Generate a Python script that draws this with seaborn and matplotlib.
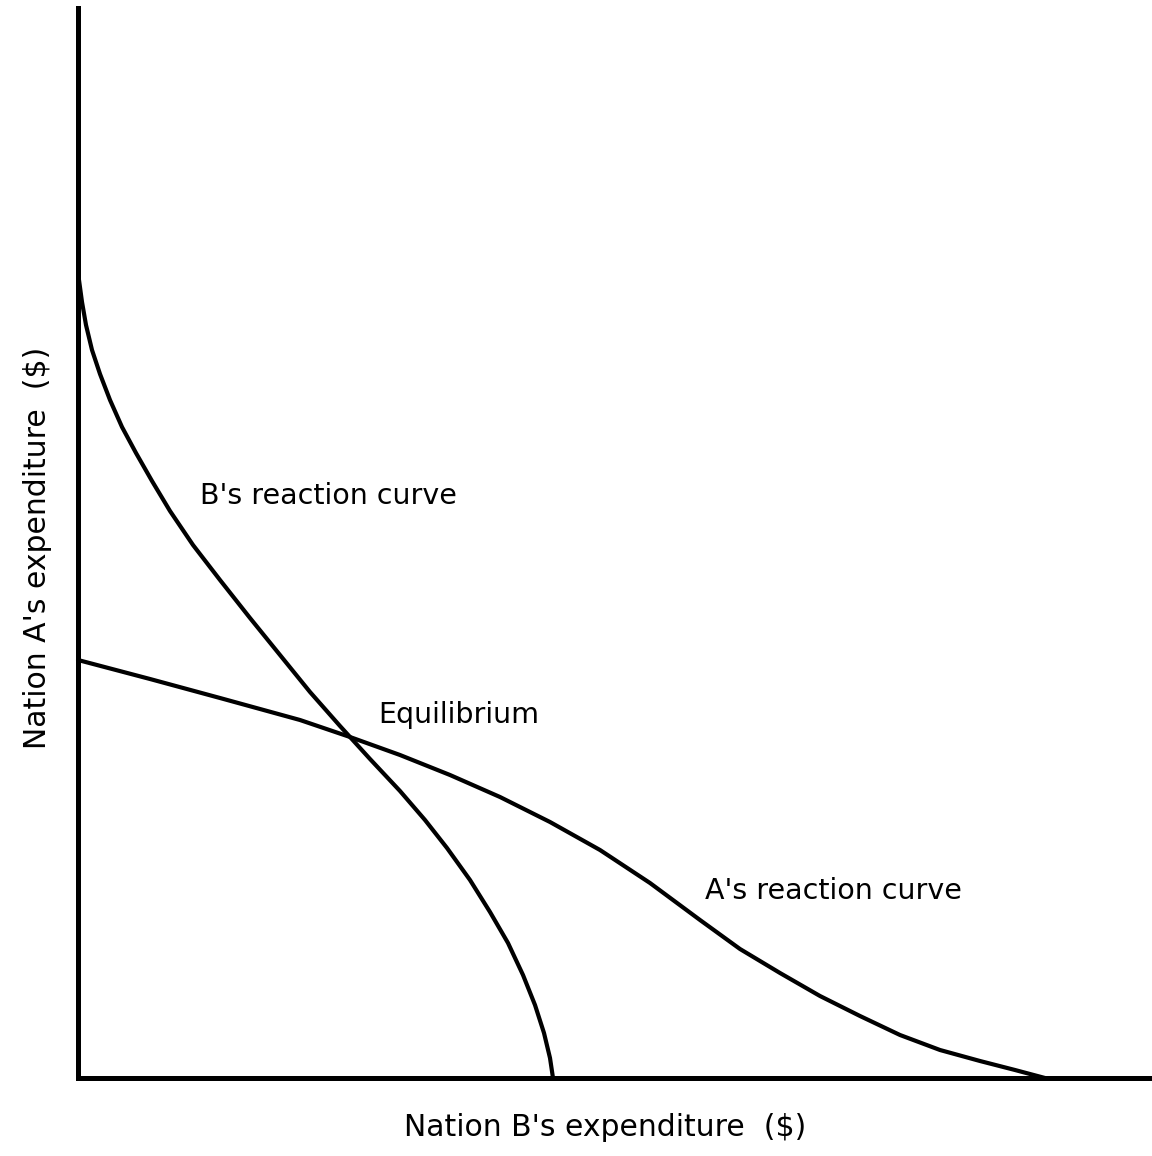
import matplotlib
matplotlib.use("Agg")
import matplotlib.pyplot as plt
import seaborn as sns
import pandas as pd

# B's reaction curve (x = Nation B's expenditure, y = Nation A's expenditure)
b_x = [0.1, 0.4, 0.8, 1.4, 2.2, 3.2, 4.4, 5.8, 7.4, 9.2, 11.5, 14.2, 17.2, 20.2, 23.2,
       26.2, 29.2, 32.2, 34.7, 36.9, 39.2, 41.2, 43.0, 44.5, 45.7, 46.6, 47.2, 47.5]
b_y = [79.8, 77.6, 75.3, 72.8, 70.4, 67.8, 65.1, 62.5, 59.7, 56.7, 53.3, 49.8, 46.0, 42.3, 38.6,
       35.2, 31.9, 28.7, 25.8, 23.0, 19.8, 16.6, 13.5, 10.3, 7.3, 4.5, 2.0, 0.0]

# A's reaction curve
a_x = [0.0, 7.2, 14.2, 22.2, 27.2, 32.2, 37.2, 42.2, 47.2, 52.2, 57.2, 62.2, 66.2,
       70.2, 74.2, 78.2, 82.2, 86.2, 90.2, 93.7, 96.7]
a_y = [41.8, 39.9, 38.0, 35.8, 34.1, 32.3, 30.3, 28.1, 25.6, 22.8, 19.5, 15.8, 12.9,
       10.5, 8.2, 6.2, 4.3, 2.8, 1.7, 0.8, 0.0]

labels = {"B": "B's reaction curve", "A": "A's reaction curve", "E": "Equilibrium"}
x_label = "Nation B's expenditure  ($)"
y_label = "Nation A's expenditure  ($)"

sns.set_style("white")
plt.rcParams["font.family"] = ["DejaVu Sans"]
plt.rcParams["text.color"] = "black"

W, H = 1152, 1156
fig = plt.figure(figsize=(W / 100, H / 100), dpi=100)
x0, y_axis, y_top = 78, 1078, 8
ax = fig.add_axes([x0 / W, (H - y_axis) / H, (W - x0) / W, (y_axis - y_top) / H])

df_b = pd.DataFrame({"x": b_x, "y": b_y})
df_a = pd.DataFrame({"x": a_x, "y": a_y})
sns.lineplot(data=df_b, x="x", y="y", sort=False, color="black", lw=3.0, ax=ax)
sns.lineplot(data=df_a, x="x", y="y", sort=False, color="black", lw=3.0, ax=ax)
for ln in ax.lines:
    ln.set_clip_on(False)
    ln.set_solid_capstyle("round")
    ln.set_solid_joinstyle("round")

ax.set_xlim(0, (W - x0) / 10)
ax.set_ylim(0, (y_axis - y_top) / 10)
ax.set_xticks([])
ax.set_yticks([])
ax.set_xlabel("")
ax.set_ylabel("")
for s in ["top", "right"]:
    ax.spines[s].set_visible(False)
for s in ["left", "bottom"]:
    ax.spines[s].set_linewidth(3.6)
    ax.spines[s].set_color("black")

fs = 20.5
ax.text(12.2, 58.2, labels["B"], fontsize=fs, va="center", ha="left", color="black")
ax.text(30.0, 36.3, labels["E"], fontsize=fs, va="center", ha="left", color="black")
ax.text(62.7, 18.7, labels["A"], fontsize=fs, va="center", ha="left", color="black")

fig.text(605 / W, 1 - 1127 / H, x_label, fontsize=21.5, ha="center", va="center", color="black")
fig.text(38 / W, 1 - 548 / H, y_label, fontsize=21.5, ha="center", va="center", rotation=90, color="black")

fig.savefig("out.png", dpi=100, facecolor="white")
